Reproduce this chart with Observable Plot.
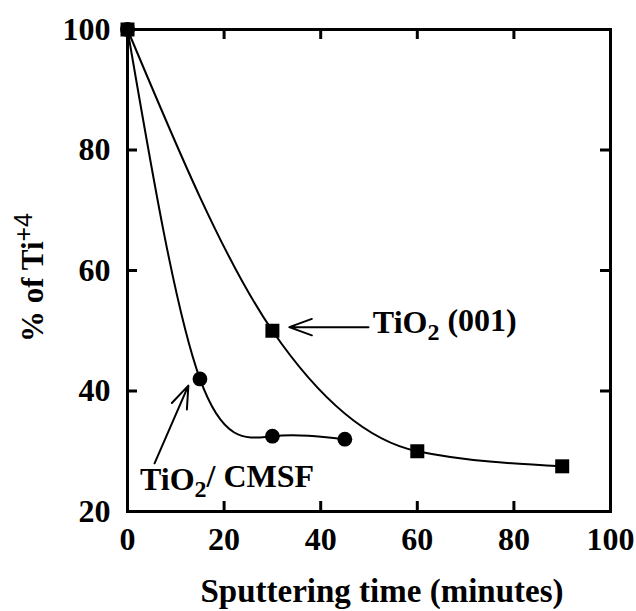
<!DOCTYPE html>
<html>
<head>
<meta charset="utf-8">
<script src="https://cdn.jsdelivr.net/npm/d3@7"></script>
<script src="https://cdn.jsdelivr.net/npm/@observablehq/plot@0.6"></script>
<style>
  html, body { margin: 0; padding: 0; background: white; }
</style>
</head>
<body>
<div id="chart"></div>
<script>
// Data
const times001 = [0, 30, 60, 90];
const ti001 = [100, 50, 30, 27.5];
const timesCMSF = [0, 15, 30, 45];
const tiCMSF = [100, 42, 32.5, 32];
const xTicks = [0, 20, 40, 60, 80, 100];
const yTicks = [20, 40, 60, 80, 100];
const xLabel = "Sputtering time (minutes)";
const yLabel = "% of Ti+4";
// Annotations (data units)
const annoText = [
  {x: 50.8, y: 49.6, text: "TiO2 (001)"},
  {x: 2.6, y: 23.6, text: "TiO2/ CMSF"}
];
const annoArrows = [
  {x1: 49.9, y1: 50.6, x2: 33.5, y2: 50.6},
  {x1: 5.6, y1: 28.0, x2: 12.6, y2: 40.9}
];

const d001 = times001.map((t, i) => ({t, v: ti001[i]}));
const dCMSF = timesCMSF.map((t, i) => ({t, v: tiCMSF[i]}));

const W = 636, H = 611, mL = 127, mR = 26, mT = 29, mB = 100;
const innerW = W - mL - mR, innerH = H - mT - mB, tick = 10;

const chart = Plot.plot({
  width: W, height: H,
  marginLeft: mL, marginRight: mR, marginTop: mT, marginBottom: mB,
  x: {domain: [0, 100]},
  y: {domain: [20, 100]},
  style: {fontFamily: "'Liberation Serif', 'Times New Roman', serif", fontWeight: "bold", fontSize: "32px", background: "white", color: "black"},
  marks: [
    Plot.axisX({ticks: xTicks, tickSize: 0, tickPadding: 16, label: null, fontSize: 32, fontWeight: "bold"}),
    Plot.axisY({ticks: yTicks, tickSize: 0, tickPadding: 17, label: null, fontSize: 32, fontWeight: "bold"}),
    Plot.tickX(xTicks.slice(1, -1), {x: d => d, insetTop: innerH - tick, strokeWidth: 3}),
    Plot.tickX(xTicks.slice(1, -1), {x: d => d, insetBottom: innerH - tick, strokeWidth: 3}),
    Plot.tickY(yTicks.slice(1, -1), {y: d => d, insetRight: innerW - tick, strokeWidth: 3}),
    Plot.tickY(yTicks.slice(1, -1), {y: d => d, insetLeft: innerW - tick, strokeWidth: 3}),
    Plot.line(d001, {x: "t", y: "v", curve: "monotone-x", strokeWidth: 2}),
    Plot.line(dCMSF, {x: "t", y: "v", curve: "natural", strokeWidth: 2}),
    Plot.dot(d001, {x: "t", y: "v", symbol: "square", r: 7.9, fill: "black"}),
    Plot.dot(dCMSF, {x: "t", y: "v", symbol: "circle", r: 7.4, fill: "black"}),
    Plot.arrow(annoArrows, {x1: "x1", y1: "y1", x2: "x2", y2: "y2", strokeWidth: 2, headAngle: 40, headLength: 18}),
    Plot.text(annoText, {x: "x", y: "y", text: "text", textAnchor: "start", lineAnchor: "bottom", fontSize: 32, fontWeight: "bold"}),
    Plot.frame({strokeWidth: 3}),
    Plot.text([xLabel], {text: d => d, frameAnchor: "bottom", textAnchor: "middle", lineAnchor: "middle", dy: 80, dx: 13, fontSize: 33, fontWeight: "bold"}),
    Plot.text([yLabel], {text: d => d, frameAnchor: "left", textAnchor: "middle", rotate: -90, lineAnchor: "middle", dx: -94, dy: 7, fontSize: 31, fontWeight: "bold"})
  ]
});

// Sub/superscripts as real text tspans
d3.select(chart).selectAll("text").each(function() {
  const el = d3.select(this);
  const t = this.textContent;
  if (t.startsWith("TiO2")) {
    const rest = t.slice(4);
    el.text(null);
    el.append("tspan").text("TiO");
    el.append("tspan").attr("font-size", 24).attr("dy", "0.3em").text("2");
    el.append("tspan").attr("dy", "-0.3em").text(rest);
  } else if (t === yLabel) {
    el.text(null);
    el.append("tspan").text("% of Ti");
    el.append("tspan").attr("font-size", 25).attr("font-family", "'Liberation Sans', Arial, sans-serif").attr("font-weight", "normal").attr("dy", "-0.45em").text("+4");
  }
});

document.getElementById("chart").appendChild(chart);
</script>
</body>
</html>
